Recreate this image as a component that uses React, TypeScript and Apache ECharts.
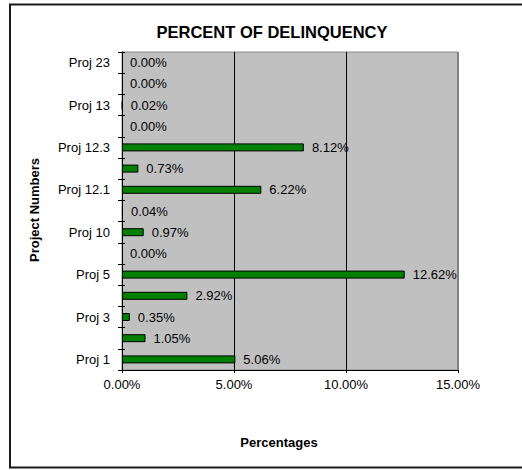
import React, { useEffect, useRef } from "react";
import * as echarts from "echarts";

// Project categories, bottom to top
const projects = [
  "Proj 1", "Proj 2", "Proj 3", "Proj 4", "Proj 5", "Proj 6", "Proj 10", "Proj 11",
  "Proj 12.1", "Proj 12.2", "Proj 12.3", "Proj 12.4", "Proj 13", "Proj 14", "Proj 23",
];

// Delinquency rate per project, in percent
const delinquency = [
  5.06, 1.05, 0.35, 2.92, 12.62, 0.0, 0.97, 0.04,
  6.22, 0.73, 8.12, 0.0, 0.02, 0.0, 0.0,
];

// Value axis range and step (percent)
const xMin = 0;
const xMax = 15;
const xStep = 5;

const FONT = "'Liberation Sans', Arial, sans-serif";

export default function App() {
  const ref = useRef<HTMLDivElement>(null);

  useEffect(() => {
    if (!ref.current) return;
    const chart = echarts.init(ref.current, null, { renderer: "svg" });

    const seriesData = delinquency.map((v) =>
      v === 0 ? { value: v, itemStyle: { borderWidth: 0 } } : v
    );

    chart.setOption({
      animation: false,
      backgroundColor: "#ffffff",
      textStyle: { fontFamily: FONT },
      grid: {
        left: 122,
        right: 64,
        top: 52,
        bottom: 100,
        show: true,
        backgroundColor: "#c0c0c0",
        borderColor: "#8a8a8a",
        borderWidth: 1,
      },
      xAxis: {
        type: "value",
        min: xMin,
        max: xMax,
        interval: xStep,
        axisLine: { show: true, lineStyle: { color: "#000", width: 1 } },
        axisTick: { show: true, length: 3, lineStyle: { color: "#000" } },
        axisLabel: {
          margin: 8,
          fontSize: 13,
          color: "#000",
          fontFamily: FONT,
          formatter: (v: number) => v.toFixed(2) + "%",
        },
        splitLine: {
          show: true,
          showMinLine: false,
          showMaxLine: false,
          lineStyle: { color: "#000", width: 1 },
        },
      },
      yAxis: [
        {
          type: "category",
          data: projects,
          axisLine: { show: true, lineStyle: { color: "#000", width: 1 } },
          axisTick: {
            show: true,
            interval: 0,
            length: 4,
            lineStyle: { color: "#000" },
          },
          axisLabel: {
            interval: 1,
            margin: 12,
            fontSize: 13,
            color: "#000",
            fontFamily: FONT,
          },
          splitLine: { show: false },
        },
        {
          // inner half of the crossing category ticks
          type: "category",
          data: projects,
          position: "left",
          offset: 0,
          axisLine: { show: false },
          axisTick: {
            show: true,
            inside: true,
            interval: 0,
            length: 3,
            lineStyle: { color: "#000" },
          },
          axisLabel: { show: false },
          splitLine: { show: false },
        },
      ],
      series: [
        {
          type: "bar",
          yAxisIndex: 0,
          data: seriesData,
          barWidth: 8,
          barMinWidth: 1,
          itemStyle: { color: "#008000", borderColor: "#000", borderWidth: 1 },
          label: {
            show: true,
            position: "right",
            distance: 8,
            fontSize: 13,
            color: "#000",
            fontFamily: FONT,
            formatter: (p: any) => Number(p.value).toFixed(2) + "%",
          },
        },
      ],
      graphic: [
        {
          type: "rect",
          shape: { x: 10, y: 4.5, width: 530, height: 463 },
          style: { fill: "none", stroke: "#1a1a1a", lineWidth: 2 },
          silent: true,
          z: 100,
        },
        {
          type: "line",
          shape: { x1: 458, y1: 52, x2: 458, y2: 370 },
          style: { stroke: "#808080", lineWidth: 2 },
          silent: true,
          z: 50,
        },
        {
          type: "text",
          x: 272,
          y: 32,
          style: {
            text: "PERCENT OF DELINQUENCY",
            fontSize: 16.5,
            fontWeight: "bold",
            fontFamily: FONT,
            fill: "#000",
            align: "center",
            verticalAlign: "middle",
          },
        },
        {
          type: "text",
          x: 279,
          y: 442,
          style: {
            text: "Percentages",
            fontSize: 13,
            fontWeight: "bold",
            fontFamily: FONT,
            fill: "#000",
            align: "center",
            verticalAlign: "middle",
          },
        },
        {
          type: "text",
          x: 34,
          y: 210,
          rotation: Math.PI / 2,
          style: {
            text: "Project Numbers",
            fontSize: 13,
            fontWeight: "bold",
            fontFamily: FONT,
            fill: "#000",
            align: "center",
            verticalAlign: "middle",
          },
        },
      ],
    });

    return () => chart.dispose();
  }, []);

  return (
    <div
      ref={ref}
      style={{ position: "absolute", left: 0, top: 0, width: 522, height: 470 }}
    />
  );
}
